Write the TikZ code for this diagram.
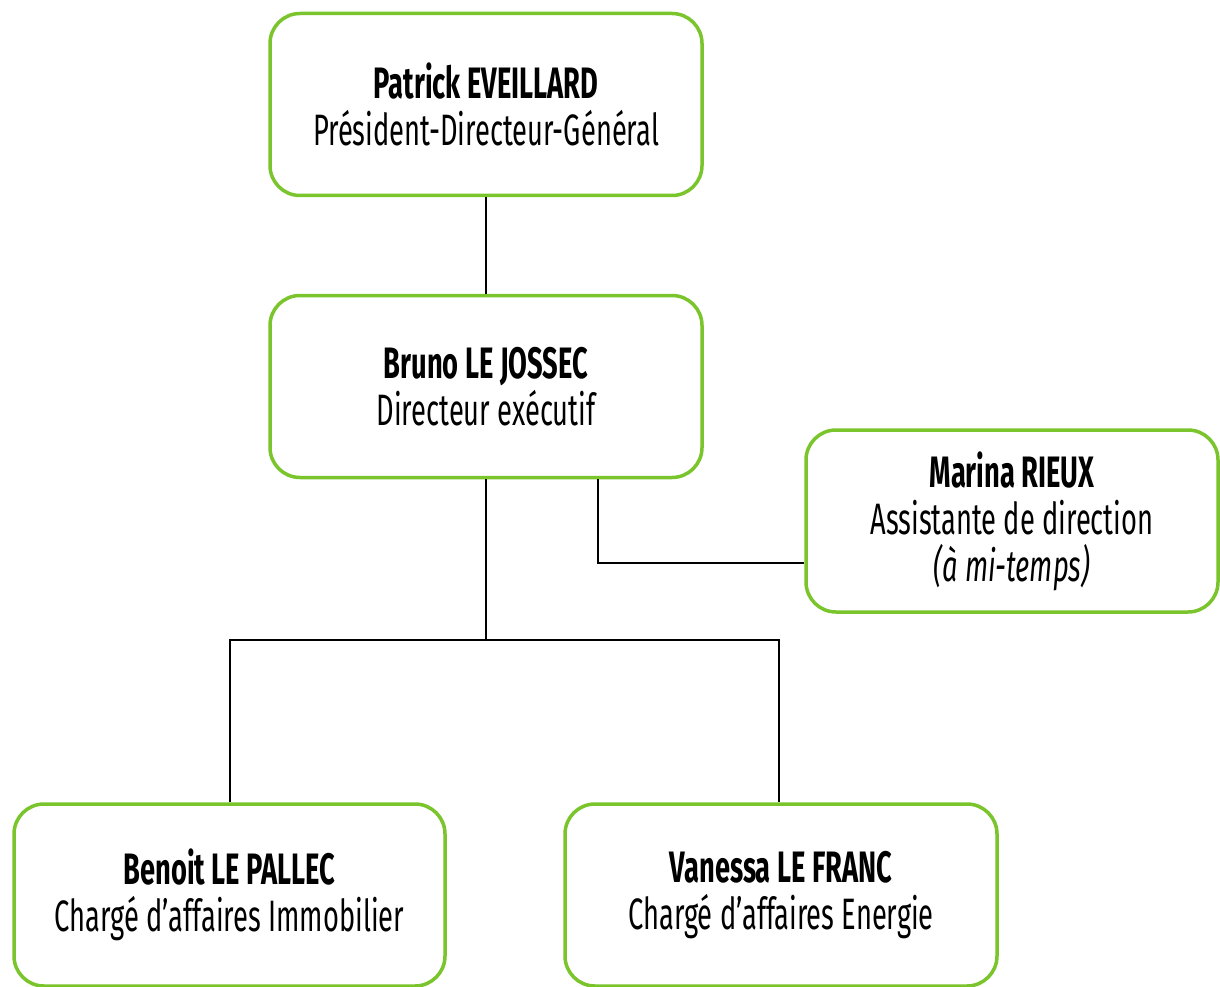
\documentclass[tikz,border=0pt]{standalone}
\usepackage{fontspec}
\setmainfont{Fira Sans}[FakeStretch=0.62]
\definecolor{boxgreen}{RGB}{122,196,44}
\tikzset{
  person/.style={draw=boxgreen, line width=3.5pt, fill=white, rounded corners=30pt,
    minimum width=#1, minimum height=182pt, inner sep=0pt, align=center,
    font=\fontsize{44}{47}\selectfont},
  person/.default=432pt,
  link/.style={draw=black, line width=1.3pt}
}
\begin{document}
\begin{tikzpicture}[x=1pt,y=-1pt]
\useasboundingbox (0,0) rectangle (1220,987);
\node[person] (pdg) at (486,104.5) {\textbf{Patrick EVEILLARD}\\Président-Directeur-Général};
\node[person] (dir) at (486,386.5) {\textbf{Bruno LE JOSSEC}\\Directeur exécutif};
\node[person=412pt] (asst) at (1012,521) {\textbf{Marina RIEUX}\\Assistante de direction\\\textit{(à mi-temps)}};
\node[person=431pt] (ben) at (229.5,895) {\textbf{Benoit LE PALLEC}\\Chargé d’affaires Immobilier};
\node[person] (van) at (781,895) {\textbf{Vanessa LE FRANC}\\Chargé d’affaires Energie};
\coordinate (split) at (486,640);
\coordinate (asstx) at (598,563);
\draw[link] (pdg.south) -- (dir.north);
\draw[link] (dir.south) -- (split);
\draw[link] (ben.north -| 230,0) |- (split) -| (van.north -| 779,0);
\draw[link] (dir.south -| asstx) |- (asst.west |- asstx);
\end{tikzpicture}
\end{document}
